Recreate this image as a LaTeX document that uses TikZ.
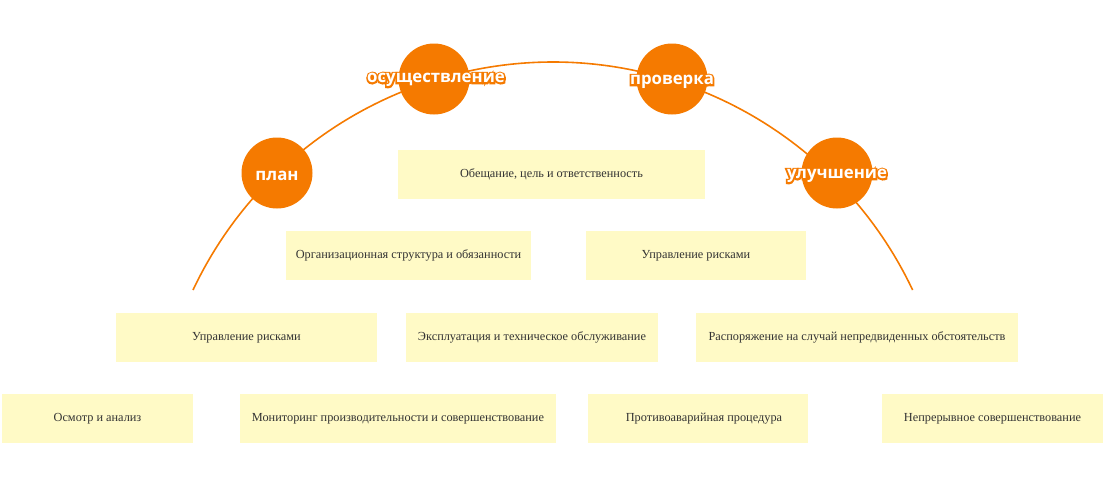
\documentclass[tikz,border=0pt]{standalone}
\usepackage{fontspec}
\setmainfont{Liberation Serif}
\newfontfamily\lblfont{Open Sans}
\newfontfamily\lblhalo{Open Sans Bold}[FakeBold=20]
\definecolor{orng}{HTML}{F57A00}
\definecolor{boxfill}{HTML}{FFFAC6}
\definecolor{boxtext}{HTML}{333333}
\tikzset{
  boxnode/.style={fill=boxfill, draw=none, minimum height=49pt, inner sep=0pt, text=boxtext, font=\fontsize{12.3}{14}\selectfont},
  stage/.style={circle, fill=orng, draw=none, minimum size=71pt, inner sep=0pt},
  stagelbl/.style={font=\lblfont\bfseries\fontsize{16.8}{19}\selectfont, inner sep=0pt, text=white},
  stagehalo/.style={font=\lblhalo\fontsize{16.8}{19}\selectfont, inner sep=0pt, text=orng},
  arcline/.style={draw=orng, line width=1.6pt}
}
\begin{document}
\begin{tikzpicture}[x=1pt,y=-1pt]
\useasboundingbox (0,0) rectangle (1103,490);
% arc
\coordinate (arcs) at (193,290);
\draw[arcline] (arcs) arc[start angle=205.3, end angle=334.7, radius=398];
% stages
\node[stage] (plan) at (277,173) {};
\node[stage] (osush) at (434,79) {};
\node[stage] (prov) at (672,79) {};
\node[stage] (ulu) at (837,173) {};
\node[stagelbl] (planlbl) at ([yshift=-2.5pt]plan) {план};
\node[stagehalo] (osushh) at ([xshift=2pt,yshift=-1pt]osush) {осуществление};
\node[stagelbl] (osushl) at ([xshift=2pt,yshift=-1pt]osush) {осуществление};
\node[stagehalo] (provh) at ([yshift=-3pt]prov) {проверка};
\node[stagelbl] (provl) at ([yshift=-3pt]prov) {проверка};
\node[stagehalo] (uluh) at ([yshift=-3pt]ulu) {улучшение};
\node[stagelbl] (ulul) at ([yshift=-3pt]ulu) {улучшение};
% boxes
\node[boxnode, minimum width=307pt] (b1) at (551.5,174.5) {Обещание, цель и ответственность};
\node[boxnode, minimum width=245pt] (b2) at (408.5,255.5) {Организационная структура и обязанности};
\node[boxnode, minimum width=220pt] (b3) at (696,255.5) {Управление рисками};
\node[boxnode, minimum width=261pt] (b4) at (246.5,337.5) {Управление рисками};
\node[boxnode, minimum width=252pt] (b5) at (532,337.5) {Эксплуатация и техническое обслуживание};
\node[boxnode, minimum width=322pt] (b6) at (857,337.5) {Распоряжение на случай непредвиденных обстоятельств};
\node[boxnode, minimum width=191pt] (b7) at (97.5,418.5) {Осмотр и анализ};
\node[boxnode, minimum width=316pt] (b8) at (398,418.5) {Мониторинг производительности и совершенствование};
\node[boxnode, minimum width=220pt] (b9) at (698,418.5) {\hspace{12pt}Противоаварийная процедура};
\node[boxnode, minimum width=221pt] (b10) at (992.5,418.5) {Непрерывное совершенствование};
\end{tikzpicture}
\end{document}
